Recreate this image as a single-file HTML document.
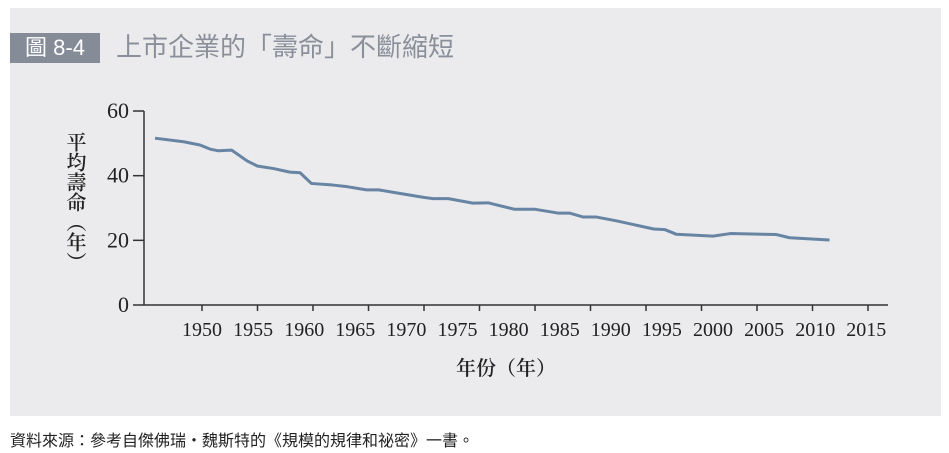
<!DOCTYPE html>
<html><head><meta charset="utf-8">
<style>
body{margin:0;width:949px;height:453px;background:#fff;overflow:hidden;font-family:"Liberation Serif","Noto Serif CJK SC",serif;}
#panel{position:absolute;left:10px;top:8px;width:931px;height:408px;background:#ebebed;}
#badge{position:absolute;left:10px;top:33px;width:90px;height:30px;background:#858c98;color:#fff;font:22px "Liberation Sans","Noto Sans CJK TC",sans-serif;line-height:30px;text-align:center;}
#title{position:absolute;left:116px;top:29px;color:#8a8f99;font:26px "Liberation Sans","Noto Sans CJK TC",sans-serif;line-height:36px;white-space:nowrap;}
#ylab{position:absolute;left:60px;top:132px;writing-mode:vertical-rl;font:600 20px "Liberation Serif","Noto Serif CJK SC",serif;color:#222;}
#source{position:absolute;left:10px;top:427px;font:16px "Liberation Sans","Noto Sans CJK TC",sans-serif;color:#222;white-space:nowrap;}
svg{position:absolute;left:0;top:0;}
</style></head><body>
<div id="panel"></div>
<div id="badge">圖 8-4</div>
<div id="title">上市企業的「壽命」不斷縮短</div>
<div id="ylab">平均壽命（年）</div>
<svg id="chart" width="949" height="453"></svg>
<div id="source">資料來源：參考自傑佛瑞・魏斯特的《規模的規律和祕密》一書。</div>
<script>
const years=[1945.4,1948.2,1949.8,1950.8,1951.6,1952.9,1954.4,1955.4,1957.0,1958.6,1959.6,1960.7,1962.8,1964.2,1966.1,1967.3,1969.4,1971.7,1972.6,1974.1,1976.5,1978.0,1980.6,1982.6,1984.9,1986.0,1987.3,1988.6,1990.6,1994.2,1995.3,1996.4,2000.0,2001.7,2006.2,2007.5,2011.4];
const lifespan=[51.6,50.5,49.5,48.2,47.7,47.9,44.6,43.0,42.2,41.1,40.9,37.6,37.1,36.6,35.6,35.6,34.5,33.3,32.9,32.9,31.5,31.6,29.6,29.6,28.4,28.4,27.2,27.2,26.0,23.5,23.3,21.9,21.3,22.1,21.8,20.8,20.1];
const yTicks=[0,20,40,60];
const xLabels=[1950,1955,1960,1965,1970,1975,1980,1985,1990,1995,2000,2005,2010,2015];
const xTickCount=13;
const NS='http://www.w3.org/2000/svg';
const svg=document.getElementById('chart');
const x=y=>202+(y-1950)*10.22;
const yS=v=>305-v*3.233;
function mk(t,a){const e=document.createElementNS(NS,t);for(const k in a)e.setAttribute(k,a[k]);svg.appendChild(e);return e;}
let e;
e=mk('line',{x1:144,y1:111,x2:144,y2:305,stroke:'#333','stroke-width':1.5});


e=mk('line',{x1:144,y1:305,x2:888,y2:305,stroke:'#333','stroke-width':1.5});


yTicks.forEach(v=>{
 e=mk('line',{x1:133,y1:yS(v),x2:144,y2:yS(v),stroke:'#333','stroke-width':1.5});
 
 
 e=mk('text',{x:129,y:yS(v)+7,'text-anchor':'end','font-size':22,fill:'#222','font-family':'Liberation Serif, serif'});
 e.textContent=v;
 
 
});
for(let i=0;i<xTickCount;i++){
 const px=202+i*55.5;
 e=mk('line',{x1:px,y1:305,x2:px,y2:311,stroke:'#333','stroke-width':1.5});
 
 
}
xLabels.forEach(yr=>{
 e=mk('text',{x:x(yr),y:336,'text-anchor':'middle','font-size':20,fill:'#222','font-family':'Liberation Serif, serif'});
 e.textContent=yr;
 
 
});
e=mk('polyline',{points:years.map((yr,i)=>x(yr)+','+yS(lifespan[i])).join(' '),fill:'none',stroke:'#6784a3','stroke-width':3,'stroke-linejoin':'round'});


e=mk('text',{x:506,y:375,'text-anchor':'middle','font-size':20,'font-weight':600,fill:'#222','font-family':'Liberation Serif, Noto Serif CJK SC, serif'});
e.textContent='年份（年）';


</script>
</body></html>
